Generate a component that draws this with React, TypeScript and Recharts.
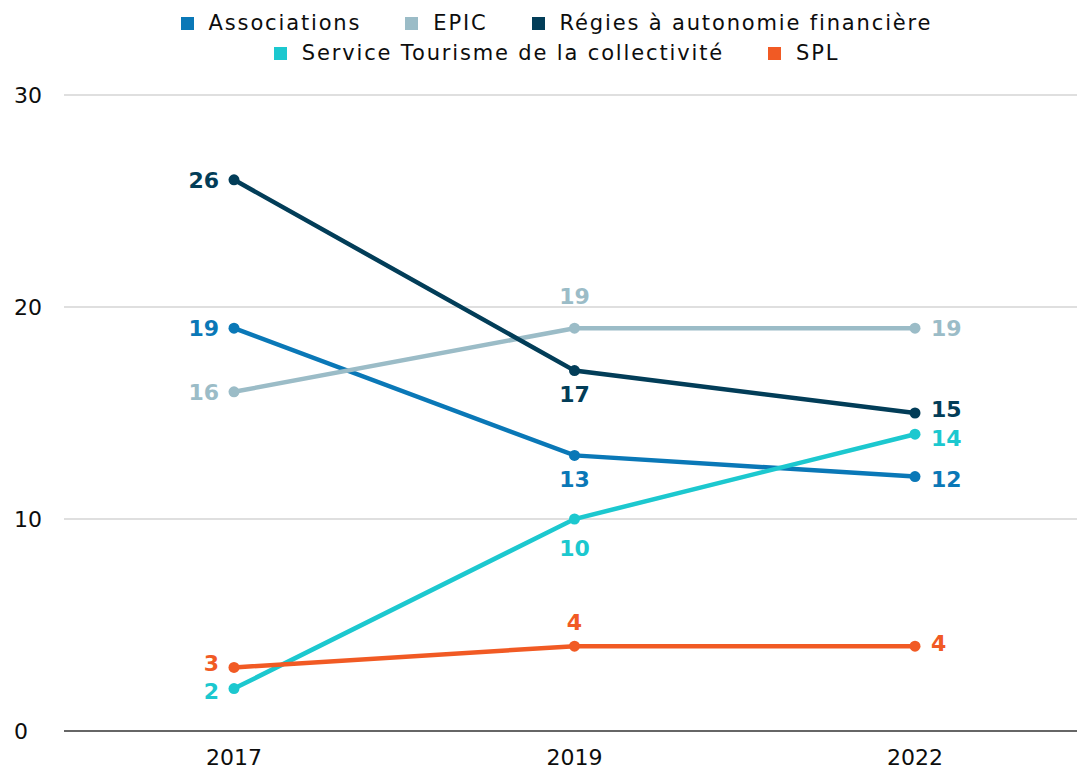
import React from "react";
import { CartesianGrid, LabelList, Legend, Line, LineChart, XAxis, YAxis } from "recharts";

const years = ["2017", "2019", "2022"];
const associations = [19, 13, 12];
const epic = [16, 19, 19];
const regies = [26, 17, 15];
const serviceTourisme = [2, 10, 14];
const spl = [3, 4, 4];
const yTicks = [0, 10, 20, 30];

const FONT = "'DejaVu Sans', sans-serif";

type Spot = { side: "left" | "right" | "above" | "below"; dy?: number };

const series = [
  { key: "associations", name: "Associations", color: "#0a78b7", values: associations },
  { key: "epic", name: "EPIC", color: "#9bbcc7", values: epic },
  { key: "regies", name: "Régies à autonomie financière", color: "#023d58", values: regies },
  { key: "service", name: "Service Tourisme de la collectivité", color: "#1cc8cf", values: serviceTourisme },
  { key: "spl", name: "SPL", color: "#f15a24", values: spl },
];

// where each value label sits relative to its point
const labelSpots: Record<string, Spot[]> = {
  associations: [{ side: "left" }, { side: "below", dy: 24 }, { side: "right", dy: 2 }],
  epic: [{ side: "left" }, { side: "above", dy: -32 }, { side: "right" }],
  regies: [{ side: "left" }, { side: "below", dy: 23 }, { side: "right", dy: -4 }],
  service: [{ side: "left", dy: 2 }, { side: "below", dy: 29 }, { side: "right", dy: 4 }],
  spl: [{ side: "left", dy: -4 }, { side: "above", dy: -24 }, { side: "right", dy: -3 }],
};

const data = years.map((year, i) => {
  const row: Record<string, string | number> = { year };
  series.forEach((s) => {
    row[s.key] = s.values[i];
  });
  return row;
});

function makeLabel(key: string, color: string) {
  return (props: any) => {
    const { x, y, value, index } = props;
    const spot = labelSpots[key][index] ?? { side: "right" };
    const dy = spot.dy ?? 0;
    let tx = x;
    let anchor: "start" | "middle" | "end" = "middle";
    if (spot.side === "left") {
      tx = x - 15;
      anchor = "end";
    } else if (spot.side === "right") {
      tx = x + 16;
      anchor = "start";
    }
    return (
      <text x={tx} y={y + dy + 8} textAnchor={anchor} fill={color} fontSize={22} fontWeight={700} fontFamily={FONT}>
        {value}
      </text>
    );
  };
}

function LegendRows() {
  const rows = [series.slice(0, 3), series.slice(3)];
  return (
    <div style={{ width: 1077, height: 72, paddingLeft: 36, boxSizing: "border-box", fontFamily: FONT }}>
      {rows.map((row, r) => (
        <div key={r} style={{ display: "flex", justifyContent: "center", columnGap: 44, height: 30, alignItems: "center", marginTop: r === 0 ? 8 : 0 }}>
          {row.map((s) => (
            <div key={s.key} style={{ display: "flex", alignItems: "center" }}>
              <span style={{ width: 13, height: 13, background: s.color, display: "inline-block", marginRight: 15 }} />
              <span style={{ fontSize: 21, letterSpacing: 1.85, color: "#0d0d0d" }}>{s.name}</span>
            </div>
          ))}
        </div>
      ))}
    </div>
  );
}

const YTick = (props: any) => (
  <text x={14} y={props.y + 8} fontSize={22} fill="#0d0d0d" fontFamily={FONT}>
    {props.payload.value}
  </text>
);

const XTick = (props: any) => (
  <text x={props.x} y={props.y + 26} textAnchor="middle" fontSize={22} fill="#0d0d0d" fontFamily={FONT}>
    {props.payload.value}
  </text>
);

export default function App() {
  return (
    <div style={{ position: "absolute", left: 0, top: 0, width: 1077, height: 769, overflow: "hidden", background: "#fff" }}>
      <LineChart width={1085} height={769} data={data} margin={{ top: 15, right: 0, bottom: 0, left: 0 }}>
        <Legend verticalAlign="top" content={<LegendRows />} wrapperStyle={{ left: 0, top: 0 }} />
        <CartesianGrid vertical={false} stroke="#bfbfbf" strokeWidth={1} />
        <XAxis
          dataKey="year"
          height={38}
          padding={{ left: 170, right: 170 }}
          tickLine={false}
          axisLine={{ stroke: "#666666", strokeWidth: 2 }}
          tick={<XTick />}
          interval={0}
        />
        <YAxis domain={[0, 30]} ticks={yTicks} width={64} axisLine={false} tickLine={false} tick={<YTick />} />
        {series.map((s) => (
          <Line
            key={s.key}
            dataKey={s.key}
            name={s.name}
            stroke={s.color}
            strokeWidth={4.5}
            dot={{ r: 5.5, fill: s.color, stroke: s.color, strokeWidth: 0 }}
            activeDot={false}
            isAnimationActive={false}
          >
            <LabelList dataKey={s.key} content={makeLabel(s.key, s.color)} />
          </Line>
        ))}
      </LineChart>
    </div>
  );
}
